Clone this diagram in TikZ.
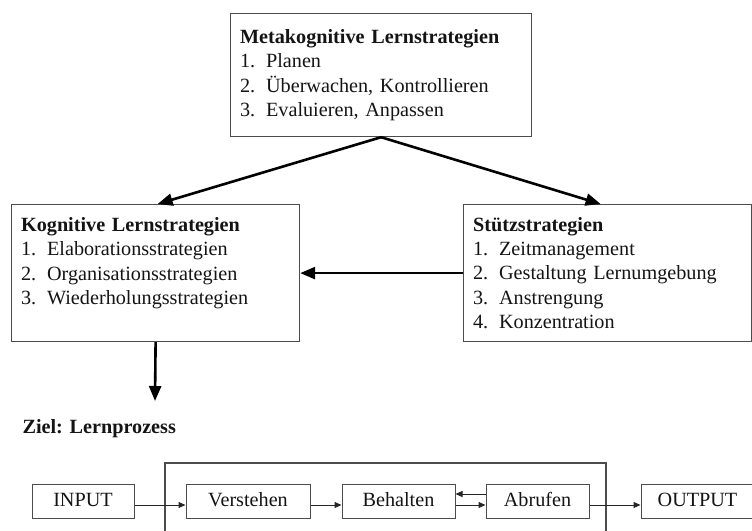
\documentclass[tikz,border=0pt]{standalone}
\usepackage{fontspec}
\setmainfont{Liberation Serif}
\usetikzlibrary{arrows.meta,positioning,calc}

\newcommand{\lsitem}[2]{\makebox[26pt][l]{#1}#2}

\begin{document}
\begin{tikzpicture}[
  x=1pt, y=-1pt,
  stratbox/.style={draw=black!70, line width=1.2pt, anchor=north west, inner xsep=9.5pt, align=left, text=black!92, font=\fontsize{20.2}{24.3}\selectfont},
  prozbox/.style={draw=black!70, line width=1pt, minimum height=34pt, inner sep=0pt, text height=14pt, text depth=4pt, text=black!92, font=\fontsize{20.2}{24}\selectfont},
  arr/.style={-{Triangle[length=15pt, width=12pt]}, line width=2.6pt},
  smallarr/.style={-{Triangle[length=7pt, width=6pt]}, line width=1pt, black!85},
]
  \useasboundingbox (0,0) rectangle (752,530);

  \node[stratbox, minimum width=301pt, minimum height=123pt, text width=282pt] (meta) at (230,13)
    {\textbf{Metakognitive Lernstrategien}\\ \lsitem{1.}{Planen}\\ \lsitem{2.}{Überwachen, Kontrollieren}\\ \lsitem{3.}{Evaluieren, Anpassen}};
  \node[stratbox, minimum width=288pt, minimum height=137pt, text width=269pt] (kog) at (11,204)
    {\textbf{Kognitive Lernstrategien}\\ \lsitem{1.}{Elaborationsstrategien}\\ \lsitem{2.}{Organisationsstrategien}\\ \lsitem{3.}{Wiederholungsstrategien}\\ \mbox{}};
  \node[stratbox, minimum width=288pt, minimum height=137pt, text width=269pt] (stuetz) at (463,204)
    {\textbf{Stützstrategien}\\ \lsitem{1.}{Zeitmanagement}\\ \lsitem{2.}{Gestaltung Lernumgebung}\\ \lsitem{3.}{Anstrengung}\\ \lsitem{4.}{Konzentration}};

  \draw[arr] (meta.south) -- ($(kog.north)+(2,0)$);
  \draw[arr] (meta.south) -- ($(stuetz.north)+(-7,0)$);
  \draw[arr] (stuetz.west) -- (kog.east);

  % Lernprozess
  \coordinate (zielpfeil) at (155,401);
  \draw[arr] (kog.south) -- (zielpfeil);
  \node[anchor=base west, text=black!92, font=\fontsize{20.2}{24}\selectfont\bfseries] (ziel) at (19,433) {Ziel: Lernprozess};

  \draw[black!70, line width=1.2pt] (165,531) |- (606,463) -- (606,531);

  \node[prozbox, minimum width=102pt] (input) at (83,501) {INPUT};
  \node[prozbox, minimum width=124pt, right=51pt of input] (verstehen) {Verstehen};
  \node[prozbox, minimum width=113pt, right=31pt of verstehen] (behalten) {Behalten};
  \node[prozbox, minimum width=103pt, right=30pt of behalten] (abrufen) {Abrufen};
  \node[prozbox, minimum width=113pt, right=51pt of abrufen] (output) {OUTPUT};

  \draw[smallarr] ($(input.east)+(0,4)$) -- ($(verstehen.west)+(0,4)$);
  \draw[smallarr] ($(verstehen.east)+(0,4)$) -- ($(behalten.west)+(0,4)$);
  \draw[smallarr] ($(behalten.east)+(0,4)$) -- ($(abrufen.west)+(0,4)$);
  \draw[smallarr] ($(abrufen.west)+(0,-7)$) -- ($(behalten.east)+(0,-7)$);
  \draw[smallarr] ($(abrufen.east)+(0,4)$) -- ($(output.west)+(0,4)$);
\end{tikzpicture}
\end{document}
